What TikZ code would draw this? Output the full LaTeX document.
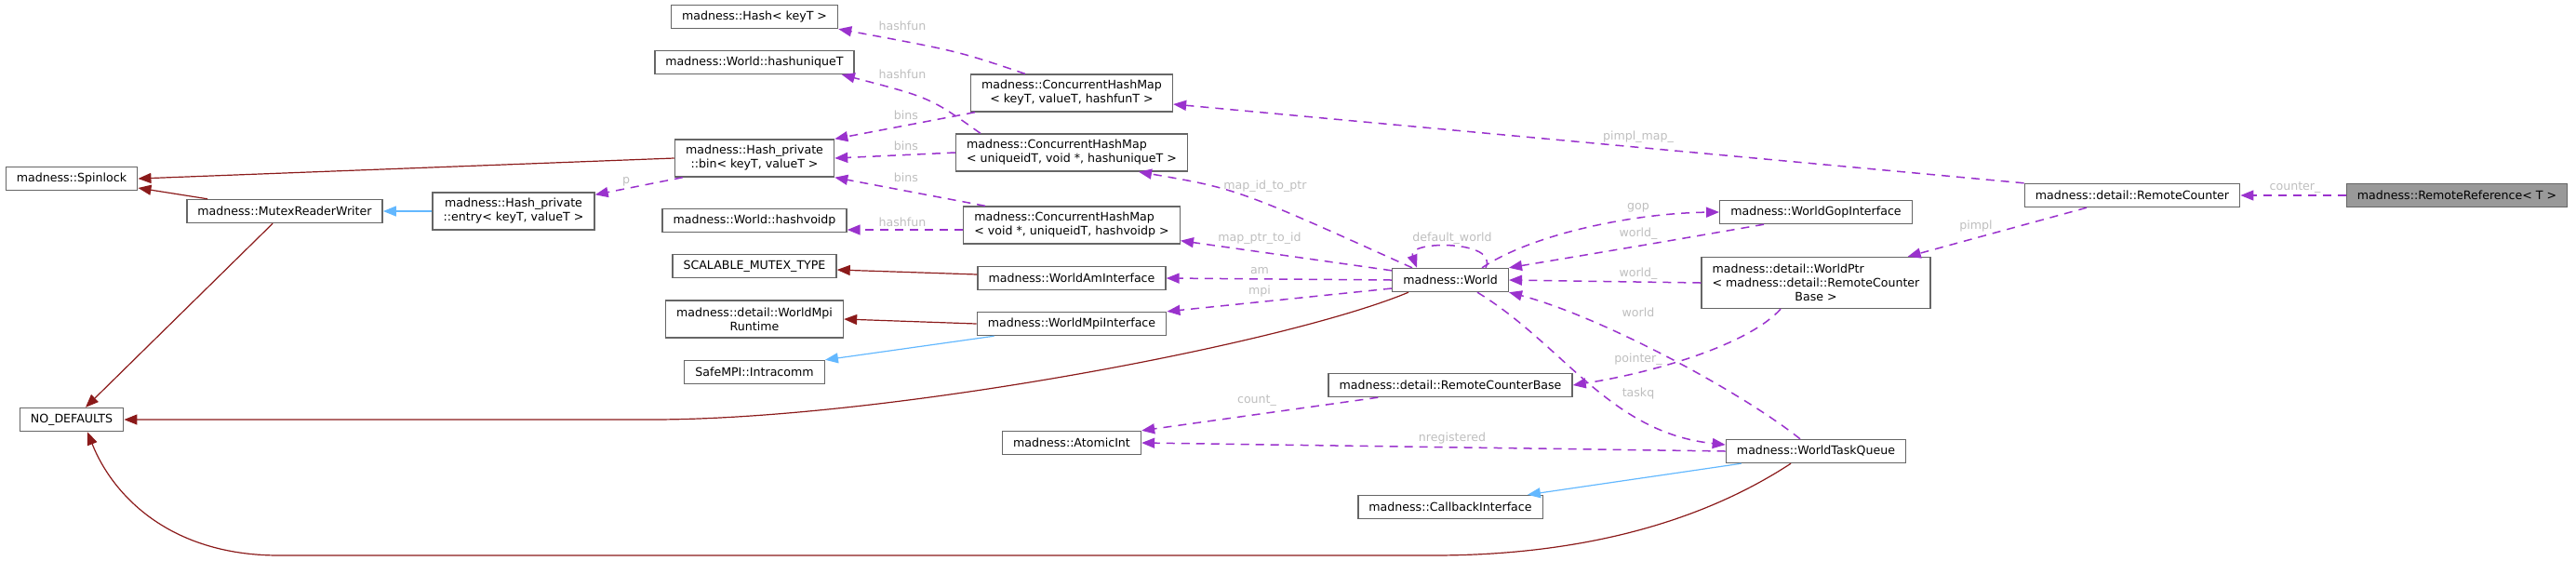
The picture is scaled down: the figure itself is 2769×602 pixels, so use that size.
\documentclass[tikz,border=0pt]{standalone}
\usepackage{fontspec}
\setmainfont{DejaVu Sans}
\usepackage{calc}
\usetikzlibrary{arrows.meta,calc}

\definecolor{usecol}{HTML}{9A32CD}
\definecolor{privcol}{HTML}{8B1A1A}
\definecolor{pubcol}{HTML}{63B8FF}
\definecolor{lblcol}{HTML}{BEBEBE}
\definecolor{boxcol}{HTML}{666666}
\definecolor{rootcol}{HTML}{999999}

\newcommand{\dfont}{\fontsize{6.3}{7.5}\selectfont}
\newcommand{\lline}[2]{\makebox[\widthof{#2}][l]{#1}}

\begin{document}
\begin{tikzpicture}[x=0.5pt, y=-0.5pt, >={Triangle[length=7pt,width=5.5pt]},
        cbox/.style={draw=boxcol, line width=0.7pt, fill=white, font=\dfont, align=center,
                     inner xsep=5.8pt, inner ysep=3pt, minimum height=12.5pt},
        member/.style={->, usecol, line width=0.75pt, dash pattern=on 4.5pt off 3.5pt},
        priv/.style={->, privcol, line width=0.6pt},
        pub/.style={->, pubcol, line width=0.6pt},
        elabel/.style={font=\dfont, text=lblcol, inner sep=0pt}]
        \useasboundingbox (0,0) rectangle (2769,602);

        % Left column
        \node[cbox] (spin) at (77,192) {madness::Spinlock};
        \node[cbox] (nodef) at (77,451) {NO\_DEFAULTS};
        \node[cbox] (mrw) at (306,227) {madness::MutexReaderWriter};
        \node[cbox, minimum height=20pt] (entry) at (552,227) {madness::Hash\_private\\::entry< keyT, valueT >};

        % Hash helpers and base classes
        \node[cbox] (hash) at (811,18) {madness::Hash< keyT >};
        \node[cbox] (hashu) at (811,67) {madness::World::hashuniqueT};
        \node[cbox, minimum height=20pt] (bin) at (811,170) {madness::Hash\_private\\::bin< keyT, valueT >};
        \node[cbox] (hashv) at (811,237) {madness::World::hashvoidp};
        \node[cbox] (smt) at (811,286) {SCALABLE\_MUTEX\_TYPE};
        \node[cbox, minimum height=20pt] (mpirt) at (811,343) {madness::detail::WorldMpi\\Runtime};
        \node[cbox] (intra) at (811,400) {SafeMPI::Intracomm};

        % Maps and interfaces
        \node[cbox, minimum height=20pt] (chmk) at (1152,100) {madness::ConcurrentHashMap\\< keyT, valueT, hashfunT >};
        \node[cbox, minimum height=20pt, align=left] (chmu) at (1152,164) {madness::ConcurrentHashMap\\< uniqueidT, void *, hashuniqueT >};
        \node[cbox, minimum height=20pt, align=left] (chmv) at (1152,242) {madness::ConcurrentHashMap\\< void *, uniqueidT, hashvoidp >};
        \node[cbox] (wai) at (1152,299) {madness::WorldAmInterface};
        \node[cbox] (wmi) at (1152,348) {madness::WorldMpiInterface};
        \node[cbox] (aint) at (1152,476) {madness::AtomicInt};

        % World and friends
        \node[cbox] (world) at (1559,301) {madness::World};
        \node[cbox] (rcb) at (1559,414) {madness::detail::RemoteCounterBase};
        \node[cbox] (cbi) at (1559,545) {madness::CallbackInterface};
        \node[cbox] (gop) at (1952,228) {madness::WorldGopInterface};
        \node[cbox, minimum height=27.5pt] (wptr) at (1952,304) {\lline{madness::detail::WorldPtr}{< madness::detail::RemoteCounter}\\< madness::detail::RemoteCounter\\Base >};
        \node[cbox] (wtq) at (1952,485) {madness::WorldTaskQueue};
        \node[cbox] (rc) at (2292,210) {madness::detail::RemoteCounter};
        \node[cbox, fill=rootcol] (rr) at (2641,210) {madness::RemoteReference< T >};

        % Inheritance
        \draw[priv] (bin.west) -- (spin.east);
        \draw[priv] ($(mrw.north west)+(23,0)$) -- ($(spin.east)+(0,10)$);
        \draw[priv] ($(mrw.south west)+(93,0)$) -- ($(nodef.north)+(15,0)$);
        \draw[pub] (entry.west) -- (mrw.east);
        \draw[priv] ($(wai.west)+(0,-4)$) -- ($(smt.east)+(0,4)$);
        \draw[priv] (wmi.west) -- (mpirt.east);
        \draw[pub] ($(wmi.south west)+(19,0)$) -- (intra.north east);
        \draw[priv] ($(world.south west)+(18,0)$) .. controls (1380,370) and (950,451) .. (700,451) -- (nodef.east);
        \draw[priv] ($(wtq.south)+(-27,0)$) .. controls (1800,580) and (1650,597) .. (1540,597) -- (300,597)
            .. controls (180,597) and (120,530) .. ($(nodef.south)+(17,0)$);
        \draw[pub] ($(wtq.south west)+(17,0)$) -- ($(cbi.north east)+(-17,0)$);

        % Members
        \draw[member] ($(bin.south west)+(9,0)$) -- ($(entry.north east)+(0,3)$);
        \draw[member] ($(chmk.north west)+(59,0)$) .. controls (1030,55) .. (hash.south east);
        \draw[member] ($(chmu.north west)+(27,0)$) .. controls (1000,105) .. ($(hashu.south east)+(-14,0)$);
        \draw[member] ($(chmk.south west)+(5,0)$) -- (bin.north east);
        \draw[member] (chmu.west) -- (bin.east);
        \draw[member] ($(chmv.north west)+(24,0)$) -- (bin.south east);
        \draw[member] ($(chmv.west)+(0,5)$) -- ($(hashv.east)+(0,10)$);
        \draw[member] ($(world.north west)+(22,0)$) .. controls (1330,203) .. ($(chmu.south)+(72,0)$);
        \draw[member] ($(world.north west)+(0,3)$) -- ($(chmv.south east)+(0,-4)$);
        \draw[member] (world.west) -- (wai.east);
        \draw[member] ($(world.west)+(0,9)$) -- (wmi.north east);
        \draw[member] ($(world.north)+(38,0)$) .. controls (1612,258) and (1512,258) .. ($(world.north west)+(27,0)$);
        \draw[member] ($(world.north east)+(-29,0)$) .. controls (1650,250) and (1760,229) .. (gop.west);
        \draw[member] ($(gop.south west)+(48,0)$) .. controls (1770,263) .. (world.north east);
        \draw[member] (wptr.west) -- (world.east);
        \draw[member] ($(wtq.north)+(-17,0)$) .. controls (1870,420) and (1720,340) .. (world.south east);
        \draw[member] ($(world.south)+(29,0)$) .. controls (1680,370) and (1730,465) .. ($(wtq.west)+(0,-7)$);
        \draw[member] ($(wptr.south)+(-38,0)$) .. controls (1880,370) and (1780,400) .. (rcb.east);
        \draw[member] ($(rcb.south west)+(54,0)$) -- (aint.north east);
        \draw[member] (wtq.west) -- (aint.east);
        \draw[member] (rc.north west) -- ($(chmk.east)+(0,12)$);
        \draw[member] ($(rc.south)+(-49,0)$) -- ($(wptr.north east)+(-25,0)$);
        \draw[member] (rr.west) -- (rc.east);

        % Edge labels
        \node[elabel] (l-p) at (673,195) {p};
        \node[elabel] (l-hf1) at (970,28) {hashfun};
        \node[elabel] (l-hf2) at (970,80) {hashfun};
        \node[elabel] (l-bins1) at (974,124) {bins};
        \node[elabel] (l-bins2) at (974,157) {bins};
        \node[elabel] (l-bins3) at (974,191) {bins};
        \node[elabel] (l-hf3) at (970,239) {hashfun};
        \node[elabel] (l-idptr) at (1360,200) {map\_id\_to\_ptr};
        \node[elabel] (l-ptrid) at (1354,256) {map\_ptr\_to\_id};
        \node[elabel] (l-am) at (1354,291) {am};
        \node[elabel] (l-mpi) at (1354,313) {mpi};
        \node[elabel] (l-dw) at (1561,256) {default\_world};
        \node[elabel] (l-gop) at (1761,223) {gop};
        \node[elabel] (l-gw) at (1761,251) {world\_};
        \node[elabel] (l-pw) at (1761,294) {world\_};
        \node[elabel] (l-tw) at (1761,336) {world};
        \node[elabel] (l-pointer) at (1761,386) {pointer\_};
        \node[elabel] (l-taskq) at (1761,423) {taskq};
        \node[elabel] (l-count) at (1351,431) {count\_};
        \node[elabel] (l-nreg) at (1561,471) {nregistered};
        \node[elabel] (l-pmap) at (1761,147) {pimpl\_map\_};
        \node[elabel] (l-pimpl) at (2124,243) {pimpl};
        \node[elabel] (l-counter) at (2467,202) {counter\_};
    \end{tikzpicture}
\end{document}
